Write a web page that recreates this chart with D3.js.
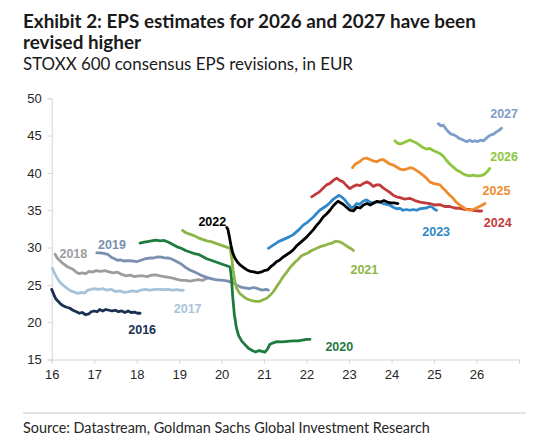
<!DOCTYPE html>
<html><head><meta charset="utf-8">
<script src="https://cdn.jsdelivr.net/npm/d3@7"></script>
<style>
html,body{margin:0;padding:0;background:#fff;}
svg{display:block;}
</style></head>
<body>
<svg id="chart" width="540" height="447"></svg>
<script>
// ---- data: [year (20xx, 2-digit), EPS in EUR] ----
const eps2016 = [[16.0,24.4],[16.05,23.7],[16.1,23.1],[16.15,22.8],[16.2,22.5],[16.27,22.2],[16.35,22.0],[16.42,21.9],[16.5,21.6],[16.58,21.4],[16.65,21.2],[16.72,21.3],[16.8,21.0],[16.87,21.1],[16.93,21.4],[17.0,21.5],[17.07,21.4],[17.13,21.7],[17.2,21.5],[17.27,21.7],[17.35,21.6],[17.42,21.5],[17.5,21.6],[17.57,21.4],[17.65,21.5],[17.72,21.3],[17.8,21.5],[17.87,21.3],[17.95,21.35],[18.02,21.2],[18.08,21.2]];
const eps2017 = [[16.02,27.2],[16.07,26.5],[16.12,26.0],[16.2,25.3],[16.28,24.9],[16.37,24.5],[16.45,24.2],[16.55,24.0],[16.62,23.85],[16.7,24.0],[16.78,23.9],[16.85,24.3],[16.93,24.4],[17.0,24.5],[17.1,24.4],[17.2,24.5],[17.3,24.3],[17.4,24.4],[17.5,24.1],[17.6,24.2],[17.7,24.0],[17.8,24.05],[17.9,24.2],[18.0,24.1],[18.1,24.3],[18.2,24.4],[18.3,24.3],[18.45,24.4],[18.55,24.4],[18.65,24.35],[18.75,24.4],[18.85,24.3],[18.95,24.35],[19.05,24.25],[19.1,24.3]];
const eps2018 = [[16.08,29.1],[16.13,28.6],[16.2,28.2],[16.28,27.8],[16.35,27.5],[16.42,27.3],[16.5,27.1],[16.58,26.7],[16.65,26.5],[16.72,26.6],[16.8,26.5],[16.88,26.8],[16.95,26.7],[17.05,26.9],[17.15,26.8],[17.25,26.9],[17.35,26.75],[17.45,26.6],[17.55,26.7],[17.65,26.4],[17.75,26.2],[17.85,26.3],[17.95,26.1],[18.05,26.2],[18.15,26.2],[18.25,26.1],[18.35,26.3],[18.45,26.35],[18.55,26.2],[18.65,26.1],[18.75,26.0],[18.85,25.9],[18.95,25.75],[19.05,25.6],[19.15,25.6],[19.25,25.5],[19.35,25.6],[19.45,25.7],[19.55,25.6],[19.62,25.8],[19.68,25.9]];
const eps2019 = [[17.06,29.3],[17.15,29.3],[17.25,29.2],[17.32,29.1],[17.4,28.7],[17.48,28.5],[17.55,28.3],[17.62,28.35],[17.7,28.2],[17.8,28.25],[17.9,28.2],[18.0,28.1],[18.1,28.3],[18.2,28.5],[18.3,28.6],[18.4,28.6],[18.5,28.75],[18.6,28.7],[18.68,28.6],[18.75,28.6],[18.85,28.4],[18.95,28.1],[19.05,27.8],[19.15,27.35],[19.25,27.0],[19.35,26.75],[19.45,26.5],[19.55,26.2],[19.65,26.0],[19.75,25.85],[19.85,25.7],[19.95,25.65],[20.05,25.6],[20.15,25.5],[20.25,25.3],[20.35,25.0],[20.45,24.7],[20.55,24.6],[20.65,24.5],[20.75,24.65],[20.85,24.5],[20.95,24.3],[21.05,24.4],[21.1,24.3]];
const eps2020 = [[18.08,30.6],[18.15,30.7],[18.25,30.8],[18.35,30.9],[18.45,31.0],[18.55,30.9],[18.65,30.95],[18.75,30.7],[18.85,30.4],[18.95,30.1],[19.05,29.9],[19.15,29.6],[19.25,29.4],[19.35,29.2],[19.45,29.1],[19.55,28.8],[19.65,28.5],[19.75,28.3],[19.85,28.1],[19.95,27.9],[20.05,27.7],[20.15,27.5],[20.2,27.4],[20.23,26.0],[20.26,23.5],[20.3,21.0],[20.35,19.2],[20.4,18.2],[20.47,17.5],[20.55,17.0],[20.63,16.5],[20.72,16.2],[20.8,16.0],[20.88,16.2],[20.95,16.1],[21.02,16.0],[21.08,16.4],[21.13,17.0],[21.2,17.2],[21.3,17.4],[21.4,17.35],[21.5,17.4],[21.6,17.45],[21.7,17.5],[21.8,17.5],[21.9,17.6],[22.0,17.7],[22.08,17.7]];
const eps2021 = [[19.08,32.3],[19.15,32.0],[19.25,31.8],[19.35,31.6],[19.45,31.3],[19.55,31.1],[19.65,30.9],[19.75,30.8],[19.85,30.6],[19.95,30.4],[20.05,30.2],[20.15,30.0],[20.2,29.9],[20.24,28.5],[20.27,27.0],[20.31,25.5],[20.35,24.6],[20.42,23.9],[20.5,23.5],[20.6,23.1],[20.7,22.9],[20.8,22.8],[20.9,22.8],[20.98,23.0],[21.06,23.2],[21.14,23.6],[21.22,24.1],[21.3,24.8],[21.38,25.5],[21.46,26.2],[21.52,26.6],[21.57,27.0],[21.64,27.5],[21.72,28.0],[21.8,28.4],[21.88,28.9],[21.96,29.1],[22.04,29.3],[22.12,29.6],[22.2,29.8],[22.28,30.0],[22.36,30.2],[22.44,30.3],[22.52,30.5],[22.6,30.6],[22.68,30.85],[22.76,30.8],[22.84,30.6],[22.92,30.3],[23.0,30.0],[23.06,29.8],[23.1,29.6]];
const eps2022 = [[20.12,32.7],[20.15,32.4],[20.18,31.5],[20.22,30.3],[20.26,29.3],[20.31,28.6],[20.38,28.0],[20.45,27.6],[20.52,27.3],[20.6,27.0],[20.68,26.8],[20.76,26.75],[20.84,26.6],[20.92,26.7],[21.0,26.9],[21.08,27.0],[21.15,27.4],[21.22,27.7],[21.29,28.1],[21.36,28.3],[21.44,28.7],[21.52,29.0],[21.6,29.3],[21.68,29.65],[21.76,30.2],[21.84,30.6],[21.92,31.0],[22.0,31.4],[22.08,31.9],[22.16,32.4],[22.24,33.0],[22.31,33.45],[22.39,34.1],[22.47,34.5],[22.55,35.0],[22.63,35.6],[22.7,36.0],[22.74,36.2],[22.8,36.0],[22.86,35.8],[22.94,35.4],[23.02,35.0],[23.1,34.9],[23.18,35.4],[23.26,35.3],[23.34,35.7],[23.42,35.9],[23.5,35.7],[23.58,36.0],[23.66,36.2],[23.74,36.1],[23.82,36.3],[23.9,36.1],[23.98,36.0],[24.06,36.0],[24.15,35.9]];
const eps2023 = [[21.1,29.9],[21.18,30.2],[21.26,30.5],[21.34,30.8],[21.42,31.0],[21.5,31.2],[21.58,31.4],[21.68,31.7],[21.76,32.1],[21.84,32.5],[21.92,33.0],[22.0,33.3],[22.08,33.7],[22.16,34.1],[22.24,34.6],[22.31,35.0],[22.39,35.3],[22.47,35.6],[22.55,36.0],[22.63,36.5],[22.71,36.8],[22.77,37.0],[22.82,36.8],[22.9,36.4],[22.98,35.8],[23.06,35.3],[23.12,35.5],[23.18,35.9],[23.25,35.8],[23.33,36.2],[23.41,36.4],[23.49,36.1],[23.57,35.9],[23.65,36.1],[23.72,36.1],[23.8,35.9],[23.88,35.8],[23.96,35.7],[24.04,35.4],[24.12,35.2],[24.2,35.25],[24.27,35.0],[24.35,35.1],[24.43,35.0],[24.51,35.1],[24.59,35.0],[24.67,35.2],[24.74,35.25],[24.82,35.3],[24.9,35.5],[24.96,35.4],[25.02,35.1],[25.06,35.0]];
const eps2024 = [[22.12,36.8],[22.2,37.1],[22.31,37.5],[22.4,38.0],[22.47,38.4],[22.55,38.6],[22.63,39.0],[22.71,39.3],[22.78,39.0],[22.86,38.8],[22.94,38.3],[23.02,37.9],[23.1,38.2],[23.18,38.4],[23.26,38.3],[23.34,38.6],[23.41,38.8],[23.49,38.6],[23.57,38.2],[23.65,38.4],[23.72,38.4],[23.8,38.0],[23.88,37.7],[23.96,37.4],[24.04,37.0],[24.12,36.8],[24.2,36.7],[24.3,36.5],[24.43,36.6],[24.55,36.3],[24.67,36.1],[24.78,36.0],[24.9,35.9],[25.02,35.7],[25.14,35.75],[25.25,35.5],[25.37,35.5],[25.48,35.3],[25.6,35.25],[25.72,35.1],[25.84,35.1],[25.95,34.95],[26.07,34.9],[26.12,34.9]];
const eps2025 = [[23.08,40.7],[23.15,41.2],[23.25,41.5],[23.33,41.9],[23.41,42.0],[23.49,41.8],[23.57,41.6],[23.65,41.5],[23.72,41.7],[23.8,41.8],[23.88,41.5],[23.96,41.2],[24.04,41.05],[24.12,40.8],[24.2,40.5],[24.27,40.4],[24.35,40.5],[24.43,40.7],[24.51,40.6],[24.59,40.3],[24.67,40.0],[24.74,39.7],[24.82,39.3],[24.9,38.8],[24.98,38.6],[25.06,38.5],[25.14,38.4],[25.22,37.9],[25.29,37.5],[25.37,37.0],[25.45,36.6],[25.52,36.1],[25.6,35.7],[25.68,35.4],[25.76,35.1],[25.84,35.0],[25.92,35.1],[26.0,35.3],[26.07,35.5],[26.14,35.7],[26.2,35.9]];
const eps2026 = [[24.08,44.3],[24.14,44.0],[24.2,43.9],[24.27,44.0],[24.35,44.2],[24.43,44.4],[24.51,44.2],[24.59,44.0],[24.67,43.7],[24.74,43.4],[24.82,43.2],[24.9,43.3],[24.98,43.0],[25.06,42.8],[25.14,42.6],[25.21,42.3],[25.29,41.7],[25.37,41.2],[25.45,40.8],[25.53,40.4],[25.6,40.2],[25.68,39.9],[25.76,39.7],[25.84,39.6],[25.92,39.7],[26.0,39.6],[26.07,39.6],[26.14,39.7],[26.2,39.9],[26.27,40.3],[26.31,40.6]];
const eps2027 = [[25.1,46.6],[25.16,46.3],[25.22,46.4],[25.28,45.9],[25.34,45.5],[25.4,45.2],[25.47,45.1],[25.53,44.9],[25.6,44.6],[25.66,44.5],[25.72,44.3],[25.78,44.2],[25.84,44.4],[25.9,44.2],[25.97,44.3],[26.03,44.2],[26.1,44.4],[26.16,44.3],[26.22,44.6],[26.28,44.9],[26.34,45.1],[26.4,45.2],[26.47,45.5],[26.53,45.7],[26.59,46.0]];

const seriesNames = ["2016","2017","2018","2019","2020","2021","2023","2022","2024","2025","2026","2027"];
const seriesData = {"2016":eps2016,"2017":eps2017,"2018":eps2018,"2019":eps2019,"2020":eps2020,"2021":eps2021,"2022":eps2022,"2023":eps2023,"2024":eps2024,"2025":eps2025,"2026":eps2026,"2027":eps2027};
const xTicks = [16,17,18,19,20,21,22,23,24,25,26,27];
const yTicks = [15,20,25,30,35,40,45,50];

// ---- styles & label layout (kept separate from data) ----
const colors = {"2016":"#1a3052","2017":"#a6c3dc","2018":"#9d9d9d","2019":"#7b8fb1","2020":"#1e7b3d","2021":"#8db547","2022":"#000000","2023":"#2f88c9","2024":"#c23b3c","2025":"#f08b2c","2026":"#8cc641","2027":"#7f9dcb"};
const labelAt = {"2016":[18.13,18.4],"2017":[19.2,21.2],"2018":[16.51,28.6],"2019":[17.42,29.8],"2020":[22.77,16.15],"2021":[23.36,26.45],"2022":[19.78,32.9],"2023":[25.05,31.6],"2024":[26.5,32.8],"2025":[26.47,37.0],"2026":[26.65,41.6],"2027":[26.65,47.3]};

const svg = d3.select("#chart");
const x = d3.scaleLinear().domain([16,27]).range([51.7,519]);
const y = d3.scaleLinear().domain([15,50]).range([359.5,98.3]);

function fitText(sel, target){
  let fs = parseFloat(sel.attr("font-size"));
  const w = sel.node().getComputedTextLength();
  if (w > 0) sel.attr("font-size", (fs*target/w).toFixed(2));
}

// Title / subtitle
const tFont = "Lato, 'Open Sans', sans-serif";
const t1 = svg.append("text").attr("x",23).attr("y",27.5).attr("font-family",tFont).attr("font-weight",700).attr("font-size",17).attr("fill","#1a1a1a").text("Exhibit 2: EPS estimates for 2026 and 2027 have been");
fitText(t1, 453);
const fsTitle = t1.attr("font-size");
svg.append("text").attr("x",23).attr("y",48.5).attr("font-family",tFont).attr("font-weight",700).attr("font-size",fsTitle).attr("fill","#1a1a1a").text("revised higher");
const st = svg.append("text").attr("x",23).attr("y",70).attr("font-family",tFont).attr("font-size",15).attr("fill","#1a1a1a").text("STOXX 600 consensus EPS revisions, in EUR");
fitText(st, 330);

// Axes
const axisFont = "Arial, 'Liberation Sans', sans-serif";
const gx = svg.append("g").attr("transform",`translate(0,${y(15)})`)
  .call(d3.axisBottom(x).tickValues(xTicks).tickSize(4).tickPadding(6).tickFormat(d => d===27 ? "" : d3.format("d")(d)));
const gy = svg.append("g").attr("transform",`translate(${x(16)},0)`)
  .call(d3.axisLeft(y).tickValues(yTicks).tickSize(4).tickPadding(6).tickFormat(d3.format("d")));
[gx,gy].forEach(g=>{
  g.select(".domain").attr("stroke","#d4d4d4").attr("stroke-width",1);
  g.selectAll(".tick line").attr("stroke","#d4d4d4");
  g.selectAll(".tick text").attr("font-family",axisFont).attr("font-size",13).attr("fill","#262626");
});

// Lines
const line = d3.line().x(d=>x(d[0])).y(d=>y(d[1])).curve(d3.curveLinear);
svg.append("g").selectAll("path").data(seriesNames).join("path")
  .attr("d", n => line(seriesData[n]))
  .attr("fill","none")
  .attr("stroke", n => colors[n])
  .attr("stroke-width",2.8)
  .attr("stroke-linejoin","round")
  .attr("stroke-linecap","round");

// Series labels
svg.append("g").selectAll("text").data(seriesNames).join("text")
  .attr("x", n => x(labelAt[n][0]))
  .attr("y", n => y(labelAt[n][1]))
  .attr("text-anchor","middle")
  .attr("font-family",axisFont).attr("font-weight",700).attr("font-size",12.5)
  .attr("fill", n => colors[n])
  .text(n => n);

// Separator & source
svg.append("line").attr("x1",23).attr("x2",526).attr("y1",413).attr("y2",413).attr("stroke","#c8c8c8").attr("stroke-width",1);
const src = svg.append("text").attr("x",23).attr("y",433).attr("font-family",tFont).attr("font-size",15).attr("fill","#262626").text("Source: Datastream, Goldman Sachs Global Investment Research");
fitText(src, 407);
</script>
</body></html>
